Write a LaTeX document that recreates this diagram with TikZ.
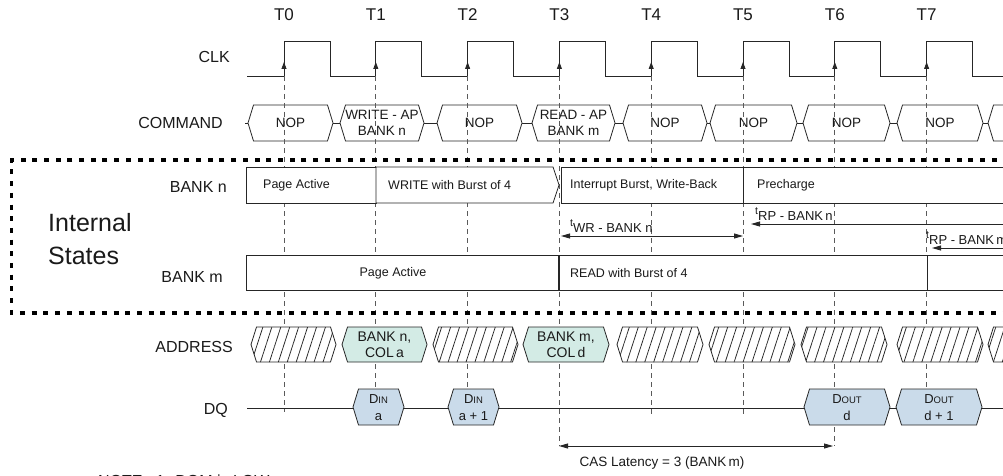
\documentclass[tikz,border=0pt]{standalone}
\usepackage{fontspec}
\setmainfont{Liberation Sans}
\usetikzlibrary{arrows.meta, patterns.meta}

% Hexagon path: left, right, top, bottom
\newcommand{\hexPath}[4]{({#1},{(#3+#4)/2}) -- ({#1+\hexIndent},#3) -- ({#2-\hexIndent},#3) -- ({#2},{(#3+#4)/2}) -- ({#2-\hexIndent},#4) -- ({#1+\hexIndent},#4) -- cycle}
\newcommand{\fs}[1]{\fontsize{#1}{#1}\selectfont}

\begin{document}
\begin{tikzpicture}[x=1pt, y=-1pt,
    sigLine/.style={draw=lineColour, line width=0.8pt},
    tickLine/.style={draw=tickColour, line width=0.7pt, dash pattern=on 5pt off 4pt},
    stateFrame/.style={draw=black, line width=3.3pt, dash pattern=on 5pt off 6.7pt},
    stateBox/.style={sigLine, fill=white},
    hatchHex/.style={sigLine, preaction={fill=white}, pattern={Lines[angle=72, distance=8.5pt, line width=0.75pt]}, pattern color=lineColour},
    addrHex/.style={sigLine, fill=addrColour},
    dqHex/.style={sigLine, fill=dqColour},
    dimArrow/.style={sigLine, {Triangle[length=9pt, width=5pt]}-{Triangle[length=9pt, width=5pt]}},
    leftArrow/.style={sigLine, {Triangle[length=9pt, width=5pt]}-},
    rowLabel/.style={anchor=east, inner sep=0pt, font=\fs{16}, text=textColour},
    timeLabel/.style={inner sep=0pt, font=\fs{17}, text=textColour},
    cmdText/.style={align=center, inner sep=0pt, font=\fontsize{13.5}{16}\selectfont, text=textColour},
    stateText/.style={anchor=west, inner sep=0pt, font=\fs{12.5}, text=textColour},
    dimText/.style={anchor=base west, inner sep=0pt, font=\fs{13}, text=textColour}]
    % Define colours
    \definecolor{lineColour}{HTML}{262626}
    \definecolor{tickColour}{HTML}{5A5A5A}
    \definecolor{textColour}{HTML}{1A1A1A}
    \definecolor{addrColour}{HTML}{D3EBE5}
    \definecolor{dqColour}{HTML}{CADBEA}

    % Define clock timing
    \def\tZero{284}
    \def\tStep{91.8}
    \def\tHigh{46}
    \def\hexIndent{5.5}

    \useasboundingbox (0,0) rectangle (1003,476);

    % Draw clock with time labels
    \foreach \i in {0,...,7} {
        \coordinate (clk\i) at ({\tZero+\i*\tStep},76);
        \node[timeLabel] (t\i) at ({\tZero+\i*\tStep},15) {T\i};
    }
    \draw[sigLine] (247,76) foreach \i in {0,...,7} {
        -- ({\tZero+\i*\tStep},76) -- ({\tZero+\i*\tStep},41)
        -- ({\tZero+\i*\tStep+\tHigh},41) -- ({\tZero+\i*\tStep+\tHigh},76)
    } -- (1010,76);
    \foreach \i in {0,...,7}
        \draw[sigLine, -{Triangle[length=7pt, width=5pt]}] (clk\i) -- ++(0,-14);

    % Draw command bus
    \draw[sigLine] (245,123) -- (1010,123);
    \foreach \l/\r/\txt [count=\i from 0] in {248/333/NOP, 340/424/{WRITE - AP\\BANK n}, 437/522/NOP, 532/615/{READ - AP\\BANK m}, 623/707/NOP, 710/797/NOP, 803/890/NOP, 897/983/NOP, 988/1073/{}} {
        \draw[sigLine, fill=white] \hexPath{\l}{\r}{105}{141};
        \node[cmdText] (cmd\i) at ({(\l+\r)/2},123) {\txt};
    }

    % Draw dashed clock lines
    \foreach \i/\yEnd in {0/412, 1/389, 2/389, 3/446, 4/417, 5/417, 6/446, 7/389}
        \draw[tickLine] (clk\i) -- ({\tZero+\i*\tStep},\yEnd);

    % Draw internal states frame
    \draw[stateFrame] (1020,160) -- (11.5,160) -- (11.5,313) -- (1020,313);

    % Draw BANK n states
    \draw[stateBox] (246,167) rectangle (376,203);
    \draw[stateBox] (376,167) -- (553,167) -- (559,185) -- (553,203) -- (376,203) -- cycle;
    \draw[stateBox] (561,167) rectangle (743,203);
    \draw[stateBox] (743,167) rectangle (1020,203);
    \node[stateText] (bnActive) at (263,185) {Page Active};
    \node[stateText] (bnWrite) at (388,185) {WRITE with Burst of 4};
    \node[stateText] (bnInterrupt) at (570,185) {Interrupt Burst, Write-Back};
    \node[stateText] (bnPrecharge) at (757,185) {Precharge};

    % Draw BANK m states
    \draw[stateBox] (246,255) rectangle (559,290);
    \draw[stateBox] (559,255) rectangle (927,290);
    \draw[stateBox] (927,255) rectangle (1020,290);
    \draw[sigLine, line width=1.4pt] (559,255) -- (559,290);
    \node[stateText, anchor=center] (bmActive) at (393,273) {Page Active};
    \node[stateText] (bmRead) at (570,273) {READ with Burst of 4};

    % Draw write recovery and precharge times
    \coordinate (wrL) at (561,236);
    \coordinate (wrR) at (743,236);
    \coordinate (rpnL) at (751,224);
    \coordinate (rpnR) at (1020,224);
    \coordinate (rpmL) at (932,248);
    \coordinate (rpmR) at (1020,248);
    \draw[dimArrow] (wrL) -- (wrR);
    \draw[leftArrow] (rpnL) -- (rpnR);
    \draw[leftArrow] (rpmL) -- (rpmR);
    \node[dimText] (wrText) at (570,232) {\raisebox{6pt}{\fs{10.5}t}WR - BANK n};
    \node[dimText] (rpnText) at (755,220) {\raisebox{6pt}{\fs{10.5}t}RP - BANK\,n};
    \node[dimText] (rpmText) at (926,244) {\raisebox{6pt}{\fs{10.5}t}RP - BANK\,m};

    % Draw address bus
    \foreach \l/\r in {251/336, 433/518, 617/703, 709/795, 801/887, 897/983, 988/1073}
        \draw[hatchHex] \hexPath{\l}{\r}{327}{362};
    \draw[addrHex] \hexPath{342}{427}{327}{362};
    \draw[addrHex] \hexPath{523}{609}{327}{362};
    \node[cmdText, font=\fontsize{14}{16}\selectfont] (addrN) at (384.5,345) {BANK n,\\COL\,a};
    \node[cmdText, font=\fontsize{14}{16}\selectfont] (addrM) at (566,345) {BANK m,\\COL\,d};

    % Draw data bus
    \draw[sigLine] (247,408) -- (1010,408);
    \foreach \l/\r/\txt [count=\i] in {353/404/{D{\fs{9.5}IN}\\a}, 448/499/{D{\fs{9.5}IN}\\a + 1}, 804/890/{D{\fs{9.5}OUT}\\d}, 896/982/{D{\fs{9.5}OUT}\\d + 1}} {
        \draw[dqHex] \hexPath{\l}{\r}{389}{425};
        \node[cmdText, font=\fontsize{13}{17}\selectfont] (dq\i) at ({(\l+\r)/2},408) {\txt};
    }

    % Draw CAS latency
    \coordinate (casL) at (559,446);
    \coordinate (casR) at (833,446);
    \draw[dimArrow] (casL) -- (casR);
    \node[cmdText] (casText) at (662,463) {CAS Latency = 3 (BANK\,m)};

    % Label rows
    \node[rowLabel] (clkLabel) at (230,57) {CLK};
    \node[rowLabel] (cmdLabel) at (223,123) {COMMAND};
    \node[rowLabel] (bnLabel) at (227,187) {BANK n};
    \node[rowLabel] (bmLabel) at (223,277) {BANK m};
    \node[rowLabel] (addrLabel) at (233,347) {ADDRESS};
    \node[rowLabel] (dqLabel) at (228,410) {DQ};
    \node[anchor=west, align=left, inner sep=0pt, font=\fontsize{25}{33}\selectfont, text=textColour] (internal) at (48,239) {Internal\\States};
    \node[anchor=base west, inner sep=0pt, font=\fs{16}, text=textColour] (note) at (98,486) {NOTE:\ \ 1. DQM is LOW.};
\end{tikzpicture}
\end{document}
